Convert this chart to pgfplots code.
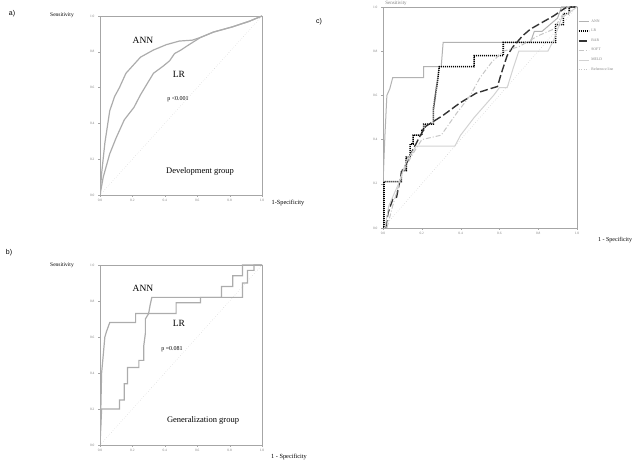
\documentclass[border=0pt]{standalone}
\usepackage{pgfplots}
\pgfplotsset{compat=1.18}
\usepackage{fontspec}
\setmainfont{Liberation Serif}
\setsansfont{Liberation Sans}
\pgfplotsset{
  rocax/.style={
    scale only axis, xmin=0, xmax=1, ymin=0, ymax=1,
    axis line style={gray!70, line width=0.8pt},
    xtick={0,0.2,0.4,0.6,0.8,1}, ytick={0,0.2,0.4,0.6,0.8,1},
    tick align=outside, xtick pos=bottom, ytick pos=left,
    major tick length=2pt, tick style={gray!70},
    ticklabel style={font=\fontsize{3.5}{4}\selectfont, text=gray},
    xticklabel style={yshift=1pt},
    /pgf/number format/.cd, fixed, fixed zerofill, precision=1, assume math mode=true
  }
}
\begin{document}
\begin{tikzpicture}[x=1pt,y=1pt]
\path[use as bounding box] (0,0) rectangle (638,468);

% ---------------- panel a ----------------
\begin{axis}[rocax, at={(100pt,273pt)}, anchor=south west, width=162pt, height=179pt]
\addplot[gray!50, dotted, line width=0.4pt] coordinates {(0,0)(1,1)};
\addplot[gray!65, line width=1.2pt] coordinates {
(0,0)(0.01,0.12)(0.03,0.29)(0.06,0.47)(0.09,0.55)(0.12,0.60)(0.16,0.68)(0.21,0.73)(0.25,0.77)(0.29,0.79)(0.33,0.81)(0.41,0.84)(0.49,0.86)(0.57,0.865)(0.62,0.88)(0.70,0.91)(0.82,0.94)(0.92,0.97)(1,1)};
\addplot[gray!65, line width=1.2pt] coordinates {
(0,0)(0.02,0.10)(0.06,0.23)(0.10,0.32)(0.15,0.42)(0.21,0.49)(0.25,0.56)(0.29,0.62)(0.33,0.68)(0.39,0.72)(0.43,0.75)(0.46,0.79)(0.50,0.81)(0.55,0.84)(0.62,0.88)(0.70,0.91)(0.82,0.94)(0.92,0.97)(1,1)};
\end{axis}

% ---------------- panel b ----------------
\begin{axis}[rocax, at={(100pt,23pt)}, anchor=south west, width=162pt, height=180pt]
\addplot[gray!50, dotted, line width=0.4pt] coordinates {(0,0)(1,1)};
\addplot[gray!65, line width=1.2pt] coordinates {
(0,0)(0.005,0.2)(0.01,0.4)(0.02,0.5)(0.03,0.6)(0.04,0.63)(0.06,0.68)(0.22,0.68)(0.22,0.73)(0.47,0.73)(0.47,0.79)(0.62,0.79)(0.62,0.82)(0.88,0.82)(0.88,0.90)(0.91,0.90)(0.91,0.97)(0.95,0.97)(0.95,1)(1,1)};
\addplot[gray!65, line width=1.2pt] coordinates {
(0,0)(0.01,0.2)(0.12,0.2)(0.12,0.25)(0.15,0.25)(0.15,0.34)(0.17,0.34)(0.17,0.43)(0.24,0.43)(0.24,0.47)(0.27,0.47)(0.27,0.55)(0.28,0.62)(0.28,0.70)(0.30,0.73)(0.31,0.78)(0.32,0.82)(0.75,0.82)(0.75,0.88)(0.82,0.88)(0.82,0.94)(0.88,0.94)(0.88,1)(1,1)};
\end{axis}

% ---------------- panel c ----------------
\begin{axis}[rocax, at={(383pt,240pt)}, anchor=south west, width=194pt, height=221pt,
  legend style={at={(1.0,0.955)}, anchor=north west, draw=none, fill=none,
    font=\fontsize{3.8}{4.2}\selectfont, text=gray, inner sep=0.5pt, row sep=1.6pt,
    cells={anchor=west}},
  legend image code/.code={\draw[#1] (0pt,0pt) -- (10pt,0pt);}]
\addplot[gray!60, line width=1pt] coordinates {
(0,0)(0,0.2)(0.01,0.42)(0.02,0.60)(0.035,0.63)(0.05,0.68)(0.21,0.68)(0.21,0.73)(0.30,0.73)(0.31,0.84)(0.76,0.84)(0.78,0.89)(0.82,0.89)(0.86,0.92)(0.90,0.95)(0.92,1)(1,1)};
\addlegendentry{ANN}
\addplot[black, line width=1.6pt, dash pattern=on 1.1pt off 0.9pt] coordinates {
(0,0)(0.005,0)(0.005,0.21)(0.095,0.21)(0.095,0.26)(0.12,0.26)(0.12,0.32)(0.14,0.32)(0.14,0.38)(0.155,0.38)(0.155,0.42)(0.20,0.42)(0.20,0.445)(0.21,0.445)(0.21,0.47)(0.26,0.47)(0.26,0.54)(0.27,0.60)(0.28,0.66)(0.29,0.73)(0.47,0.73)(0.47,0.78)(0.62,0.78)(0.62,0.84)(0.89,0.84)(0.89,0.92)(0.93,0.92)(0.93,0.97)(0.96,0.97)(0.96,1)(1,1)};
\addlegendentry{LR}
\addplot[black!80, line width=1.4pt, dash pattern=on 8pt off 3pt] coordinates {
(0.014,0)(0.026,0.068)(0.05,0.13)(0.07,0.14)(0.095,0.25)(0.12,0.29)(0.155,0.355)(0.19,0.415)(0.22,0.46)(0.31,0.51)(0.395,0.565)(0.48,0.61)(0.57,0.635)(0.59,0.64)(0.61,0.70)(0.64,0.78)(0.67,0.82)(0.72,0.87)(0.76,0.90)(0.82,0.93)(0.88,0.96)(0.93,0.99)(0.95,1)(1,1)};
\addlegendentry{BAR}
\addplot[gray!45, line width=1pt, dash pattern=on 5pt off 2pt on 1pt off 2pt] coordinates {
(0.02,0)(0.05,0.10)(0.10,0.25)(0.15,0.33)(0.20,0.40)(0.30,0.42)(0.38,0.52)(0.45,0.60)(0.50,0.68)(0.56,0.75)(0.62,0.80)(0.70,0.82)(0.80,0.87)(0.88,0.90)(0.95,1)(1,1)};
\addlegendentry{SOFT}
\addplot[gray!35, line width=1pt] coordinates {
(0.01,0)(0.03,0.10)(0.08,0.20)(0.12,0.30)(0.17,0.37)(0.37,0.37)(0.40,0.42)(0.47,0.50)(0.52,0.55)(0.57,0.60)(0.60,0.635)(0.64,0.635)(0.67,0.72)(0.70,0.80)(0.85,0.80)(0.88,0.85)(0.92,0.95)(1,1)};
\addlegendentry{MELD}
\addplot[gray!45, dotted, line width=0.5pt] coordinates {(0,0)(1,1)};
\addlegendentry{Reference line}
\end{axis}

% ---------------- texts ----------------
\node[font=\sffamily\fontsize{7}{8}\selectfont] at (12,454) {a)};
\node[font=\fontsize{5.5}{6}\selectfont] at (62,453) {Sensitivity};
\node[font=\fontsize{6.3}{7}\selectfont] at (288,265) {1-Specificity};
\node[font=\fontsize{9.5}{10}\selectfont] at (143,428) {ANN};
\node[font=\fontsize{9.5}{10}\selectfont] at (179,394) {LR};
\node[font=\fontsize{6}{7}\selectfont] at (178,369) {p <0.001};
\node[font=\fontsize{8.5}{9}\selectfont] at (200,297) {Development group};

\node[font=\sffamily\fontsize{7}{8}\selectfont] at (9,215) {b)};
\node[font=\fontsize{5.5}{6}\selectfont] at (62,203) {Sensitivity};
\node[font=\fontsize{9.5}{10}\selectfont] at (143,180) {ANN};
\node[font=\fontsize{9.5}{10}\selectfont] at (179,145) {LR};
\node[font=\fontsize{6}{7}\selectfont] at (172,119) {p =0.081};
\node[font=\fontsize{8.5}{9}\selectfont] at (203,48) {Generalization group};
\node[font=\fontsize{6.3}{7}\selectfont] at (289,11) {1 - Specificity};

\node[font=\sffamily\fontsize{7}{8}\selectfont] at (319,446) {c)};
\node[font=\fontsize{5}{6}\selectfont, text=gray] at (396,465) {Sensitivity};
\node[font=\fontsize{6}{7}\selectfont] at (615,228) {1 - Specificity};
\end{tikzpicture}
\end{document}
